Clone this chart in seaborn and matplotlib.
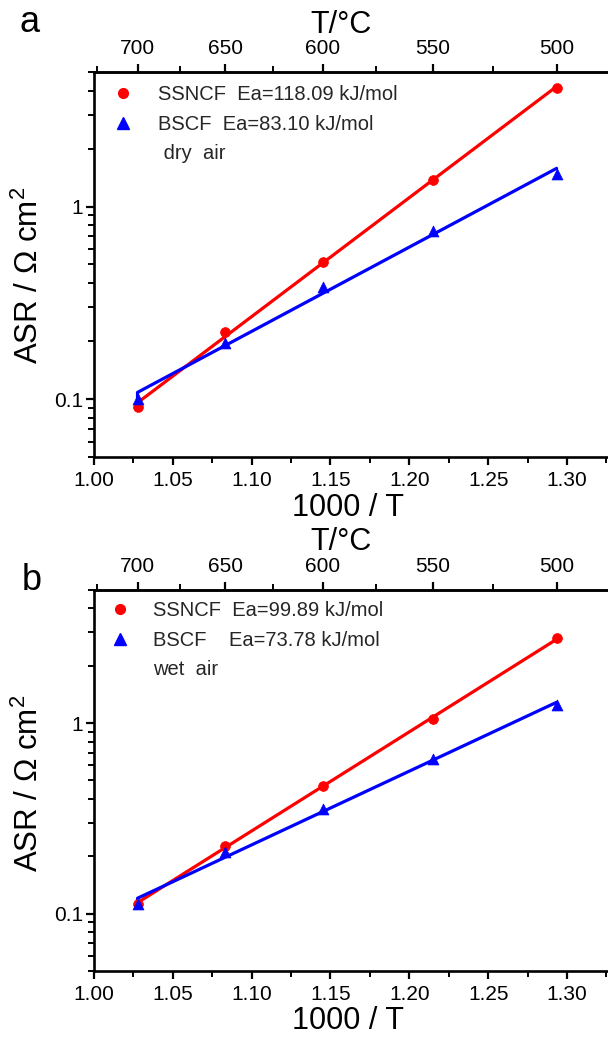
import numpy as np
import pandas as pd
import matplotlib
matplotlib.use("Agg")
import matplotlib.pyplot as plt
import seaborn as sns
from matplotlib.lines import Line2D
from matplotlib.ticker import FixedLocator, NullFormatter, MultipleLocator, FixedFormatter

# ---------------- data ----------------
inv_T = [1.0276, 1.0832, 1.1453, 1.2149, 1.2934]          # 1000/T (K^-1)
ssncf_dry = [0.091, 0.224, 0.515, 1.37, 4.15]
bscf_dry = [0.100, 0.196, 0.381, 0.75, 1.47]
ssncf_wet = [0.113, 0.227, 0.468, 1.05, 2.79]
bscf_wet = [0.112, 0.211, 0.355, 0.648, 1.24]

labels_dry = ["SSNCF  Ea=118.09 kJ/mol", "BSCF  Ea=83.10 kJ/mol", " dry  air"]
labels_wet = ["SSNCF  Ea=99.89 kJ/mol", "BSCF    Ea=73.78 kJ/mol", "wet  air"]
panel_letters = ["a", "b"]

x_major = [1.00, 1.05, 1.10, 1.15, 1.20, 1.25, 1.30]
y_major = [0.1, 1]
y_major_labels = ["0.1", "1"]
top_major = [700, 650, 600, 550, 500]
top_minor = [725, 675, 625, 575, 525, 475]

RED = "#ff0000"
BLUE = "#0000ff"

sns.set_theme(style="ticks")
plt.rcParams["font.family"] = ["Liberation Sans", "DejaVu Sans"]
plt.rcParams["mathtext.fontset"] = "custom"
plt.rcParams["mathtext.rm"] = "Liberation Sans"
plt.rcParams["mathtext.it"] = "Liberation Sans"

W, H = 608, 1043
fig = plt.figure(figsize=(W / 100, H / 100), dpi=100)

def fx(px):
    return px / W

def fy(py):
    return 1 - py / H

XL = (1.0, 1.35)
YL = (0.05, 5)

LEG_FS = 14.5
LEG_FS_PX = LEG_FS * 100 / 72

panels = [
    dict(top=72, bottom=457, s=ssncf_dry, b=bscf_dry, labels=labels_dry,
         letter_pos=(30, 23), tlabel_y=25, ylabel_c=275,
         mark_x=123, text_x=158, row_y=93),
    dict(top=590, bottom=971, s=ssncf_wet, b=bscf_wet, labels=labels_wet,
         letter_pos=(32, 580), tlabel_y=542, ylabel_c=783,
         mark_x=120, text_x=153, row_y=609),
]

left_px = 94
px_per_unit = (567 - 94) / 0.30
right_px = left_px + (XL[1] - XL[0]) * px_per_unit

for i, p in enumerate(panels):
    ax = fig.add_axes([fx(left_px), fy(p["bottom"]), fx(right_px - left_px),
                       (p["bottom"] - p["top"]) / H])
    df = pd.DataFrame({
        "x": inv_T * 2,
        "asr": p["s"] + p["b"],
        "mat": ["SSNCF"] * len(inv_T) + ["BSCF"] * len(inv_T),
    })
    # Arrhenius fits (linear in log10)
    for mat, col in [("SSNCF", RED), ("BSCF", BLUE)]:
        sub = df[df.mat == mat]
        xs = sub.x.to_numpy()
        ys = sub.asr.to_numpy()
        k, c = np.polyfit(xs, np.log10(ys), 1)
        fit_y = 10 ** (k * xs + c)
        line = pd.DataFrame({
            "x": np.concatenate([[xs[0]], xs]),
            "y": np.concatenate([[ys[0]], fit_y]),
        })
        sns.lineplot(data=line, x="x", y="y", sort=False, estimator=None,
                     color=col, lw=2.3, ax=ax, legend=False)
    sns.scatterplot(data=df[df.mat == "SSNCF"], x="x", y="asr", color=RED,
                    marker="o", s=50, edgecolor=RED, linewidth=0.5, ax=ax,
                    legend=False, zorder=5)
    sns.scatterplot(data=df[df.mat == "BSCF"], x="x", y="asr", color=BLUE,
                    marker="^", s=62, edgecolor=BLUE, linewidth=0.5, ax=ax,
                    legend=False, zorder=5)

    ax.set_yscale("log")
    ax.set_xlim(*XL)
    ax.set_ylim(*YL)

    ax.xaxis.set_major_locator(FixedLocator(x_major))
    ax.xaxis.set_major_formatter(FixedFormatter([f"{v:.2f}" for v in x_major]))
    ax.xaxis.set_minor_locator(MultipleLocator(0.025))
    ax.yaxis.set_major_locator(FixedLocator(y_major))
    ax.yaxis.set_major_formatter(FixedFormatter(y_major_labels))
    ax.yaxis.set_minor_locator(FixedLocator(
        [m * 10.0 ** e for e in (-2, -1, 0) for m in range(2, 10)]))
    ax.yaxis.set_minor_formatter(NullFormatter())

    for sp in ax.spines.values():
        sp.set_linewidth(1.9)
        sp.set_color("black")
    ax.spines["right"].set_visible(False)

    ax.tick_params(axis="both", which="major", direction="out", length=6,
                   width=1.6, color="black", labelsize=15, labelcolor="black")
    ax.tick_params(axis="both", which="minor", direction="out", length=4,
                   width=1.4, color="black")
    ax.tick_params(axis="x", which="major", pad=4)
    ax.tick_params(axis="y", which="major", pad=2)

    ax.set_xlabel("1000 / T", fontsize=22, color="black")
    ax.xaxis.set_label_coords((348 - left_px) / (right_px - left_px),
                              -(508 - 457) / (457 - 72))
    ax.xaxis.label.set_va("center")
    ax.set_ylabel("")
    fig.text(fx(29), fy(p["ylabel_c"]), r"ASR / Ω cm$^{2}$", rotation=90,
             ha="center", va="center", fontsize=22.5, color="black")

    # top temperature axis
    sec = ax.secondary_xaxis("top", functions=(
        lambda x: 1000.0 / np.asarray(x, float) - 273.15,
        lambda t: 1000.0 / (np.asarray(t, float) + 273.15)))
    sec.xaxis.set_major_locator(FixedLocator(top_major))
    sec.xaxis.set_major_formatter(FixedFormatter([str(t) for t in top_major]))
    sec.xaxis.set_minor_locator(FixedLocator(top_minor))
    sec.tick_params(axis="x", which="major", direction="out", length=6,
                    width=1.6, labelsize=15, pad=4, color="black",
                    labelcolor="black")
    sec.tick_params(axis="x", which="minor", direction="out", length=4,
                    width=1.4, color="black")
    sec.spines["top"].set_linewidth(1.9)
    fig.text(fx(341), fy(p["tlabel_y"]), "T/°C", ha="center", va="center",
             fontsize=22, color="black")

    # legend
    handles = [
        Line2D([], [], ls="none", marker="o", color=RED, markersize=7),
        Line2D([], [], ls="none", marker="^", color=BLUE, markersize=8),
        Line2D([], [], ls="none"),
    ]
    leg_left = p["mark_x"] - LEG_FS_PX / 2
    pad = (p["text_x"] - leg_left - LEG_FS_PX) / LEG_FS_PX
    leg_top = p["row_y"] - 7.5
    ax.legend(handles, p["labels"], loc="upper left",
              bbox_to_anchor=((leg_left - left_px) / (right_px - left_px),
                              (p["bottom"] - leg_top) / (p["bottom"] - p["top"])),
              frameon=False, fontsize=LEG_FS, handlelength=1.0,
              handletextpad=pad, labelspacing=0.5, borderaxespad=0,
              borderpad=0)

    fig.text(fx(p["letter_pos"][0]), fy(p["letter_pos"][1]), panel_letters[i],
             ha="center", va="center", fontsize=26, color="black")

fig.savefig("out.png", dpi=100)
